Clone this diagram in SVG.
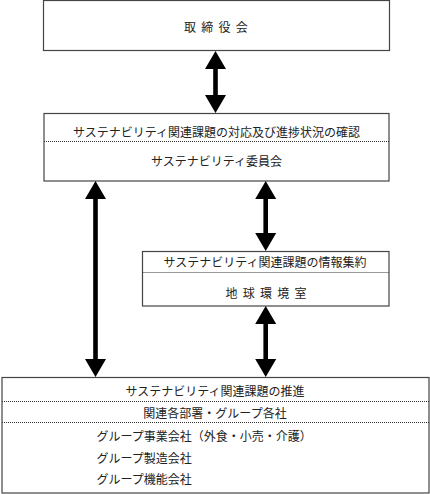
<svg xmlns="http://www.w3.org/2000/svg" width="430" height="494" viewBox="0 0 430 494">
<style>
.box{fill:#fff;stroke:#444;stroke-width:1.2}
.dot{stroke:#333;stroke-width:1;stroke-dasharray:1 1;fill:none}
text{font-family:"Noto Sans CJK JP","Noto Sans CJK SC",serif;font-size:12px;fill:#222;dominant-baseline:central}
.c{text-anchor:middle}
.arrow{fill:#000}
</style>
<rect width="430" height="494" fill="#fff"/>
<g id="board">
<rect class="box" x="43.5" y="0.5" width="346" height="50"/>
<text class="c" x="218.5" y="26" letter-spacing="5.3">取締役会</text>
</g>
<g id="committee">
<rect class="box" x="44" y="113.5" width="345" height="67.5"/>
<line class="dot" x1="44" y1="141.5" x2="389" y2="141.5"/>
<text class="c" x="216.5" y="131">サステナビリティ関連課題の対応及び進捗状況の確認</text>
<text class="c" x="216.5" y="160.5">サステナビリティ委員会</text>
</g>
<g id="env-office">
<rect class="box" x="142.5" y="251.5" width="246.5" height="54.5"/>
<line class="dot" x1="142.5" y1="272.5" x2="389" y2="272.5"/>
<text class="c" x="265" y="261.5">サステナビリティ関連課題の情報集約</text>
<text class="c" x="268.6" y="292.5" letter-spacing="5.2">地球環境室</text>
</g>
<g id="departments">
<rect class="box" x="2" y="377.5" width="427" height="115.5"/>
<line class="dot" x1="2" y1="401.5" x2="429" y2="401.5"/>
<line class="dot" x1="2" y1="422.5" x2="429" y2="422.5"/>
<text class="c" x="215" y="390">サステナビリティ関連課題の推進</text>
<text class="c" x="215" y="412">関連各部署・グループ各社</text>
<text x="96.5" y="435">グループ事業会社（外食・小売・介護）</text>
<text x="96.5" y="457.5">グループ製造会社</text>
<text x="96.5" y="478">グループ機能会社</text>
</g>
<g id="connectors">
<polygon class="arrow" points="215.5,51 226,69 217.8,69 217.8,95 226,95 215.5,113 205,95 213.2,95 213.2,69 205,69"/>
<polygon class="arrow" points="95.5,181 106,199 97.8,199 97.8,359 106,359 95.5,377 85,359 93.2,359 93.2,199 85,199"/>
<polygon class="arrow" points="265.7,181 276.2,199 268,199 268,233 276.2,233 265.7,251 255.2,233 263.4,233 263.4,199 255.2,199"/>
<polygon class="arrow" points="265.7,306 276.2,324 268,324 268,359 276.2,359 265.7,377 255.2,359 263.4,359 263.4,324 255.2,324"/>
</g>
</svg>
